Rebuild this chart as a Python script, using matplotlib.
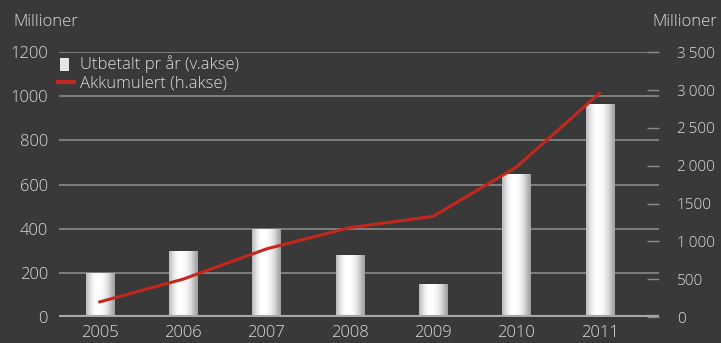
import numpy as np
import matplotlib
matplotlib.use("Agg")
from matplotlib import pyplot as plt
from matplotlib.patches import Rectangle
from matplotlib.lines import Line2D
from matplotlib.legend_handler import HandlerBase

years = ['2005', '2006', '2007', '2008', '2009', '2010', '2011']
utbetalt = [200, 300, 400, 280, 150, 650, 965]        # venstre akse
akkumulert = [200, 500, 900, 1180, 1330, 1980, 2960]  # høyre akse

left_ticks = [0, 200, 400, 600, 800, 1000, 1200]
right_ticks = [0, 500, 1000, 1500, 2000, 2500, 3000, 3500]
right_labels = ['0', '500', '1\u2009000', '1500', '2\u2009000', '2\u2009500', '3\u2009000', '3\u2009500']

bg = '#393939'
txt = '#dcdcdc'
red = '#c4281c'
grid_c = '#8a8a8a'
fs = 12

plt.rcParams['font.family'] = ['Open Sans', 'DejaVu Sans']
plt.rcParams['font.weight'] = 'light'

fig = plt.figure(figsize=(7.21, 3.43), dpi=100, facecolor=bg)
ax = fig.add_axes([0.0818, 0.0758, 0.832, 0.772])
ax.set_facecolor(bg)

x = np.arange(len(years))

# rutenett
for t in left_ticks[1:]:
    ax.axhline(t, color=grid_c, lw=1.2, zorder=1)
ax.axhline(0, color='#a8a8a8', lw=3, zorder=4)

# søyler med gradient
grad = np.array([0.72, 0.85, 0.95, 1.0, 1.0, 0.98, 0.93, 0.85, 0.72, 0.62])
grad = np.interp(np.linspace(0, 9, 200), np.arange(10), grad)
img = np.dstack([grad, grad, np.clip(grad * 1.01, 0, 1), np.ones_like(grad)])
bars = ax.bar(x, utbetalt, width=0.34, color='white', zorder=2)
for b in bars:
    im = ax.imshow(img, extent=[b.get_x(), b.get_x() + b.get_width(), 0, b.get_height()],
                   aspect='auto', zorder=3, interpolation='bilinear')
    im.set_clip_path(b)
ax.set_xlim(-0.49, 6.71)
ax.set_ylim(0, 1200)

ax.set_xticks(x)
ax.set_xticklabels(years)
ax.set_yticks(left_ticks)
ax.tick_params(axis='both', length=0, colors=txt, labelsize=fs)
ax.tick_params(axis='x', pad=6)
ax.tick_params(axis='y', pad=8)
for s in ax.spines.values():
    s.set_visible(False)

ax2 = ax.twinx()
ax2.set_ylim(0, 3500)
ax2.plot(x, akkumulert, color=red, lw=2.2, zorder=5)
ax2.set_yticks(right_ticks)
ax2.set_yticklabels(right_labels)
ax2.tick_params(axis='y', direction='in', length=9, width=1, color=grid_c,
                colors=txt, labelsize=11, pad=13)
for s in ax2.spines.values():
    s.set_visible(False)
ax2.set_xlim(-0.49, 6.71)

fig.text(0.019, 0.925, 'Millioner', color=txt, fontsize=fs)
fig.text(0.994, 0.925, 'Millioner', color=txt, fontsize=fs, ha='right')


class GradHandler(HandlerBase):
    def create_artists(self, legend, orig, xd, yd, w, h, fontsize, trans):
        r = Rectangle((xd + 2, yd - 1), h * 0.7, h + 1, facecolor='#e6e6e6',
                      edgecolor='none', transform=trans)
        return [r]


handles = [Rectangle((0, 0), 1, 1), Line2D([0], [0], color=red, lw=3)]
leg = ax.legend(handles, ['Utbetalt pr år (v.akse)', 'Akkumulert (h.akse)'],
                handler_map={Rectangle: GradHandler()}, loc='upper left',
                bbox_to_anchor=(-0.019, 1.025), frameon=False, fontsize=fs,
                labelcolor=txt, handlelength=1.0, handletextpad=0.35,
                labelspacing=0.12, borderaxespad=0.2)
leg.set_zorder(10)

fig.savefig('out.png', dpi=100, facecolor=bg)
